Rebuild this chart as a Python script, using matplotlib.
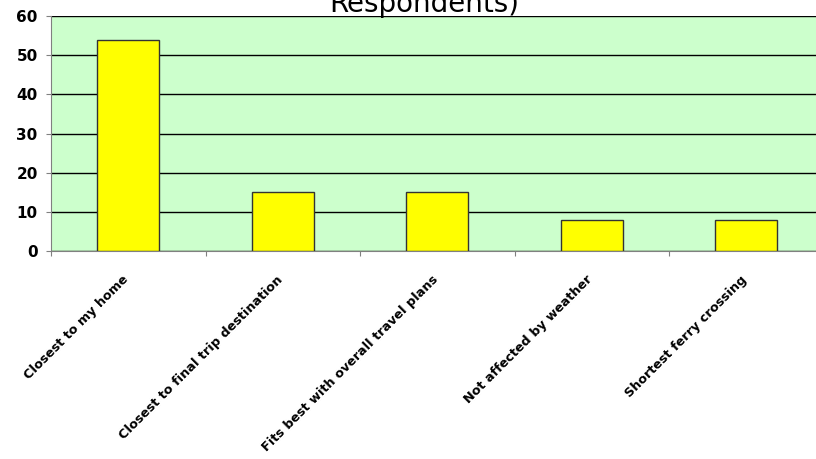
import matplotlib.pyplot as plt
import matplotlib.transforms as mtransforms
import numpy as np

categories = ["Closest to my home", "Closest to final trip destination",
              "Fits best with overall travel plans", "Not affected by weather",
              "Shortest ferry crossing"]
values = [54, 15, 15, 8, 8]
y_ticks = [0, 10, 20, 30, 40, 50, 60]

fig = plt.figure(figsize=(8.16, 4.59), dpi=100)
ax = fig.add_axes([51/816, 208/459, 772.5/816, 235/459])
ax.set_facecolor("#CCFFCC")

x = np.arange(len(categories))
ax.bar(x, values, width=0.4, color="#FFFF00", edgecolor="#333333", linewidth=1, zorder=3)

ax.set_xlim(-0.5, len(categories) - 0.5)
ax.set_ylim(0, 60)
ax.set_yticks(y_ticks)
ax.set_yticklabels([str(v) for v in y_ticks], fontsize=11, fontweight="bold")
ax.yaxis.grid(True, color="black", linewidth=1, zorder=1)

# category boundaries as ticks, labels at centres
ax.set_xticks(np.arange(len(categories) + 1) - 0.5)
ax.set_xticklabels([])
ax.set_xticks(x, minor=True)
ax.set_xticklabels(categories, minor=True, rotation=45, ha="right",
                   rotation_mode="anchor", fontsize=9.2, fontweight="bold")
ax.tick_params(axis="x", which="minor", length=0, pad=16)
ax.tick_params(axis="x", which="major", length=3.6, color="#808080")
ax.tick_params(axis="y", length=3.6, color="#808080", pad=6)

# nudge rotated labels a little to the left
shift = mtransforms.ScaledTranslation(-6/100, 0, fig.dpi_scale_trans)
for lbl in ax.get_xticklabels(minor=True):
    lbl.set_transform(lbl.get_transform() + shift)

for s in ["top", "right"]:
    ax.spines[s].set_visible(False)
ax.spines["left"].set_color("#808080")
ax.spines["bottom"].set_color("#808080")

fig.text(424/816, 1 - 12/459, "Respondents)", ha="center", va="baseline", fontsize=20)

fig.savefig("out.png", dpi=100, facecolor="white")
